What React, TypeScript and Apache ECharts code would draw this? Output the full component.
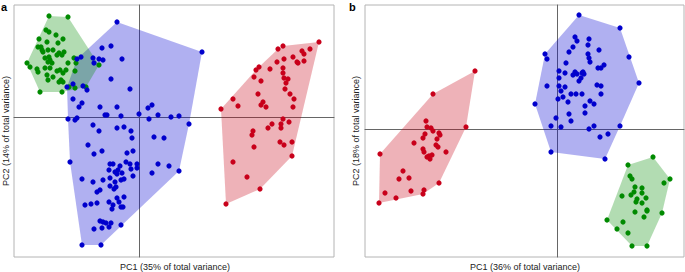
import React, { useEffect, useRef } from "react";
import * as echarts from "echarts";

// Panel a — PC scores [PC1, PC2]
const aGreen: number[][] = [
  [-9.0, 10.1], [-7.1, 10.0], [-9.3, 8.7], [-9.0, 8.5], [-8.3, 8.2], [-7.6, 7.8], [-10.0, 7.8], [-9.2, 7.5],
  [-8.1, 7.4], [-9.8, 7.0], [-9.6, 6.5], [-9.1, 6.7], [-8.6, 6.7], [-8.0, 6.4], [-7.5, 6.5], [-9.0, 6.0],
  [-8.2, 6.2], [-7.7, 6.2], [-6.5, 5.9], [-6.3, 5.4], [-7.1, 5.4], [-11.2, 5.4], [-10.9, 5.0], [-10.2, 4.8],
  [-10.1, 4.5], [-9.4, 4.9], [-8.9, 4.9], [-8.2, 4.6], [-7.9, 4.7], [-7.6, 4.4], [-7.3, 4.7], [-6.4, 4.6],
  [-9.2, 4.2], [-9.1, 3.7], [-8.6, 4.0], [-7.8, 3.7], [-7.6, 3.5], [-8.0, 3.5], [-7.0, 3.0], [-6.4, 2.9],
  [-9.9, 2.5], [-7.7, 2.5], [-5.3, 3.0], [-4.0, 5.2], [-9.1, 5.5], [-8.7, 5.4], [-9.4, 5.9], [-8.9, 5.7],
  [-9.7, 6.7], [-10.1, 7.0],
];
const aBlue: number[][] = [
  [-2.2, 9.5], [6.3, 6.5], [-2.8, 7.1], [-3.7, 6.9], [-5.8, 6.0], [-6.2, 5.8], [-4.6, 5.9], [-4.5, 5.4],
  [-4.0, 5.8], [-3.6, 5.7], [-1.7, 5.8], [-2.8, 3.8], [-0.9, 2.8], [-7.2, 3.0], [-6.6, 3.3], [-5.6, 3.1],
  [-5.2, 2.7], [-6.6, 1.8], [-5.7, 1.4], [-6.0, 1.0], [-3.9, 1.0], [-2.2, 1.0], [0.9, 0.9], [1.3, 1.2],
  [-3.4, 0.2], [-3.2, 0.2], [-1.8, 0.1], [0.0, 0.3], [1.0, -0.2], [1.9, 0.2], [3.2, 0.0], [4.0, 0.1],
  [5.0, -0.7], [-7.1, -0.2], [-6.4, -0.3], [-6.2, -0.1], [-4.6, -0.8], [-4.0, -1.4], [-2.2, -1.1], [-1.5, -1.0],
  [-0.8, -1.4], [-0.7, -2.1], [1.5, -2.0], [2.5, -2.1], [-5.1, -2.8], [-4.5, -3.7], [-3.7, -3.4], [-1.2, -3.6],
  [-0.6, -3.4], [-6.9, -4.5], [-2.9, -4.7], [-2.6, -4.7], [-1.9, -4.9], [-1.3, -4.5], [-0.9, -4.7], [-0.2, -4.7],
  [-0.2, -5.1], [-0.8, -5.2], [-0.6, -5.9], [1.9, -4.7], [3.0, -4.9], [4.0, -5.4], [1.3, -5.6], [-3.0, -5.3],
  [-2.4, -5.5], [-2.1, -5.3], [-1.7, -5.6], [-2.2, -5.7], [-1.5, -6.2], [-1.8, -6.3], [-2.4, -6.5], [-2.9, -6.1],
  [-3.6, -6.3], [-4.6, -6.5], [-5.7, -6.2], [-2.9, -6.9], [-2.5, -7.2], [-2.3, -7.0], [-3.9, -7.3], [-4.2, -7.5],
  [-5.4, -8.8], [-4.8, -8.7], [-4.2, -8.6], [-3.0, -8.5], [-2.6, -8.8], [-2.7, -9.2], [-2.2, -8.1], [-2.0, -8.5],
  [-1.8, -9.0], [-1.6, -9.0], [-1.5, -8.0], [-3.9, -10.4], [-3.6, -10.5], [-3.3, -10.6], [-2.8, -10.6], [-3.0, -11.0],
  [-3.7, -11.1], [-4.5, -11.2], [-1.8, -10.8], [-5.7, -12.8], [-3.8, -12.8],
];
const aRed: number[][] = [
  [18.0, 7.5], [17.1, 6.8], [14.4, 7.1], [13.9, 6.8], [16.3, 6.6], [16.5, 6.3], [16.5, 5.6], [15.4, 6.0],
  [14.5, 5.8], [15.8, 5.5], [15.9, 5.4], [13.8, 5.5], [12.0, 5.0], [11.7, 4.7], [13.1, 4.8], [14.4, 4.9],
  [14.4, 4.4], [14.5, 3.9], [14.9, 3.8], [14.7, 3.4], [11.5, 4.0], [12.2, 3.6], [14.6, 2.8], [15.1, 2.3],
  [15.5, 1.8], [15.4, 1.0], [11.9, 2.3], [12.4, 1.5], [12.2, 1.2], [12.7, 1.0], [9.4, 1.8], [9.9, 1.1],
  [8.2, 0.8], [14.4, -0.2], [15.0, -0.5], [14.2, -0.7], [14.2, -1.1], [13.3, -0.7], [12.9, -1.1], [11.4, -1.4],
  [11.3, -1.8], [11.5, -3.0], [14.1, -2.5], [14.5, -2.8], [15.3, -2.5], [15.3, -3.9], [9.4, -4.5], [10.8, -6.0],
  [12.1, -7.2], [8.7, -8.7],
];

// Panel b — PC scores [PC1, PC2]
const bBlue: number[][] = [
  [2.2, 11.4], [6.3, 10.1], [7.2, 7.2], [8.2, 4.6], [6.3, 0.3], [5.1, -0.5], [4.3, -0.8], [3.2, 0.0],
  [3.7, 0.3], [0.4, 0.2], [-0.6, 0.3], [-0.1, 1.1], [-2.2, 2.5], [-1.2, 7.5], [-1.0, 7.0], [1.8, 9.2],
  [2.0, 8.8], [3.2, 9.0], [3.1, 8.4], [1.6, 8.2], [1.2, 7.7], [4.2, 7.9], [3.1, 7.5], [3.2, 7.1],
  [3.3, 6.7], [0.9, 6.6], [4.1, 6.1], [4.4, 6.1], [4.7, 6.4], [0.2, 5.8], [0.8, 5.6], [1.6, 5.4],
  [1.8, 5.7], [2.0, 5.5], [2.5, 5.6], [2.6, 5.7], [2.7, 5.5], [2.4, 5.1], [2.2, 4.8], [0.2, 5.1],
  [0.2, 4.3], [-1.0, 4.3], [0.8, 4.2], [0.4, 3.8], [0.6, 3.2], [0.1, 3.0], [1.4, 3.5], [1.9, 3.5],
  [2.5, 3.5], [4.0, 4.4], [4.4, 4.3], [4.4, 3.5], [1.1, 2.7], [3.3, 2.8], [3.7, 2.5], [2.8, 2.3],
  [2.8, 1.6], [1.2, 1.5], [1.4, 0.8], [-0.6, -2.3], [4.8, -3.0],
];
const bGreen: number[][] = [
  [9.6, -2.8], [7.1, -3.6], [7.3, -4.7], [7.5, -5.0], [11.3, -5.0], [10.7, -5.4], [7.8, -5.8], [8.5, -5.9],
  [7.7, -6.3], [8.5, -6.4], [6.5, -6.7], [7.4, -6.6], [8.0, -7.0], [8.9, -6.9], [7.9, -7.3], [8.5, -7.4],
  [9.0, -8.1], [9.0, -8.2], [7.8, -8.3], [10.5, -8.4], [8.7, -8.8], [5.0, -9.1], [6.6, -9.3], [6.0, -10.0],
  [7.1, -10.4], [7.5, -11.7], [9.0, -11.7],
];
const bRed: number[][] = [
  [-8.2, 5.8], [-12.4, 3.5], [-13.1, 0.8], [-13.0, 0.2], [-12.6, 0.1], [-12.4, -0.2], [-11.8, -0.4], [-11.7, -0.6],
  [-9.1, 0.2], [-13.2, -0.5], [-13.4, -0.9], [-12.0, -1.0], [-17.7, -2.5], [-12.1, -1.6], [-11.9, -1.8], [-14.3, -1.4],
  [-13.4, -2.0], [-13.3, -2.3], [-13.0, -2.8], [-12.8, -2.7], [-12.5, -2.6], [-12.7, -3.0], [-11.1, -2.3], [-15.4, -4.2],
  [-15.8, -5.0], [-14.8, -4.9], [-11.8, -5.4], [-14.6, -6.2], [-13.3, -6.1], [-13.4, -6.5], [-16.1, -6.9], [-17.2, -6.4],
  [-17.8, -7.4],
];

const panelLabels = ["a", "b"];
const xTitles = ["PC1 (35% of total variance)", "PC1 (36% of total variance)"];
const yTitles = ["PC2 (14% of total variance)", "PC2 (18% of total variance)"];

const BLUE = "#0000cc";
const GREEN = "#008a00";
const RED = "#c8001a";
const BLUE_FILL = "rgba(0,0,210,0.31)";
const GREEN_FILL = "rgba(0,140,0,0.30)";
const RED_FILL = "rgba(200,0,20,0.30)";

function hull(pts: number[][]): number[][] {
  const p = pts.slice().sort((a, b) => a[0] - b[0] || a[1] - b[1]);
  const cross = (o: number[], a: number[], b: number[]) =>
    (a[0] - o[0]) * (b[1] - o[1]) - (a[1] - o[1]) * (b[0] - o[0]);
  const lower: number[][] = [];
  for (const q of p) {
    while (lower.length >= 2 && cross(lower[lower.length - 2], lower[lower.length - 1], q) <= 0) lower.pop();
    lower.push(q);
  }
  const upper: number[][] = [];
  for (let i = p.length - 1; i >= 0; i--) {
    const q = p[i];
    while (upper.length >= 2 && cross(upper[upper.length - 2], upper[upper.length - 1], q) <= 0) upper.pop();
    upper.push(q);
  }
  upper.pop();
  lower.pop();
  return lower.concat(upper);
}

function hullSeries(pts: number[][], idx: number, fill: string, z: number) {
  const h = hull(pts);
  return {
    type: "custom",
    xAxisIndex: idx,
    yAxisIndex: idx,
    data: [[h[0][0], h[0][1]]],
    z,
    silent: true,
    renderItem: (_params: any, api: any) => ({
      type: "polygon",
      shape: { points: h.map((q) => api.coord(q)) },
      style: { fill, stroke: "none" },
    }),
  };
}

function scatter(pts: number[][], idx: number, color: string) {
  return {
    type: "scatter",
    xAxisIndex: idx,
    yAxisIndex: idx,
    data: pts,
    symbolSize: 5.2,
    itemStyle: { color, opacity: 1 },
    z: 10,
  };
}

const axisCommon = {
  axisLabel: { show: false },
  axisTick: { show: false },
  splitLine: { show: false },
  axisLine: { onZero: true, lineStyle: { color: "#666", width: 1 } },
};

export default function App() {
  const ref = useRef<HTMLDivElement>(null);
  useEffect(() => {
    document.body.style.margin = "0";
    const chart = echarts.init(ref.current!, undefined, { renderer: "svg" });
    const font = "'Liberation Sans', Arial, sans-serif";
    chart.setOption({
      animation: false,
      grid: [
        { left: 14, top: 5, width: 320, height: 252, show: true, borderColor: "#b4b4b4", borderWidth: 1 },
        { left: 365, top: 5, width: 319, height: 252, show: true, borderColor: "#b4b4b4", borderWidth: 1 },
      ],
      xAxis: [
        { type: "value", gridIndex: 0, min: -12.5, max: 19.5, ...axisCommon },
        { type: "value", gridIndex: 1, min: -19.2, max: 12.7, ...axisCommon },
      ],
      yAxis: [
        { type: "value", gridIndex: 0, min: -14, max: 11.2, ...axisCommon },
        { type: "value", gridIndex: 1, min: -12.8, max: 12.4, ...axisCommon },
      ],
      graphic: [
        { type: "text", left: 1, top: 1, style: { text: panelLabels[0], font: `bold 11px ${font}`, fill: "#000" } },
        { type: "text", left: 349, top: 1, style: { text: panelLabels[1], font: `bold 11px ${font}`, fill: "#000" } },
        { type: "text", x: 175, y: 267, style: { text: xTitles[0], font: `9px ${font}`, fill: "#222", align: "center", verticalAlign: "middle" } },
        { type: "text", x: 525, y: 267, style: { text: xTitles[1], font: `9px ${font}`, fill: "#222", align: "center", verticalAlign: "middle" } },
        { type: "text", x: 6, y: 131, rotation: Math.PI / 2, style: { text: yTitles[0], font: `9px ${font}`, fill: "#222", align: "center", verticalAlign: "middle" } },
        { type: "text", x: 356, y: 131, rotation: Math.PI / 2, style: { text: yTitles[1], font: `9px ${font}`, fill: "#222", align: "center", verticalAlign: "middle" } },
      ],
      series: [
        hullSeries(aBlue, 0, BLUE_FILL, 1),
        hullSeries(aGreen, 0, GREEN_FILL, 2),
        hullSeries(aRed, 0, RED_FILL, 2),
        hullSeries(bBlue, 1, BLUE_FILL, 1),
        hullSeries(bGreen, 1, GREEN_FILL, 2),
        hullSeries(bRed, 1, RED_FILL, 2),
        scatter(aGreen, 0, GREEN),
        scatter(aBlue, 0, BLUE),
        scatter(aRed, 0, RED),
        scatter(bBlue, 1, BLUE),
        scatter(bGreen, 1, GREEN),
        scatter(bRed, 1, RED),
      ],
    });
    return () => chart.dispose();
  }, []);
  return <div ref={ref} style={{ width: 685, height: 272 }} />;
}
